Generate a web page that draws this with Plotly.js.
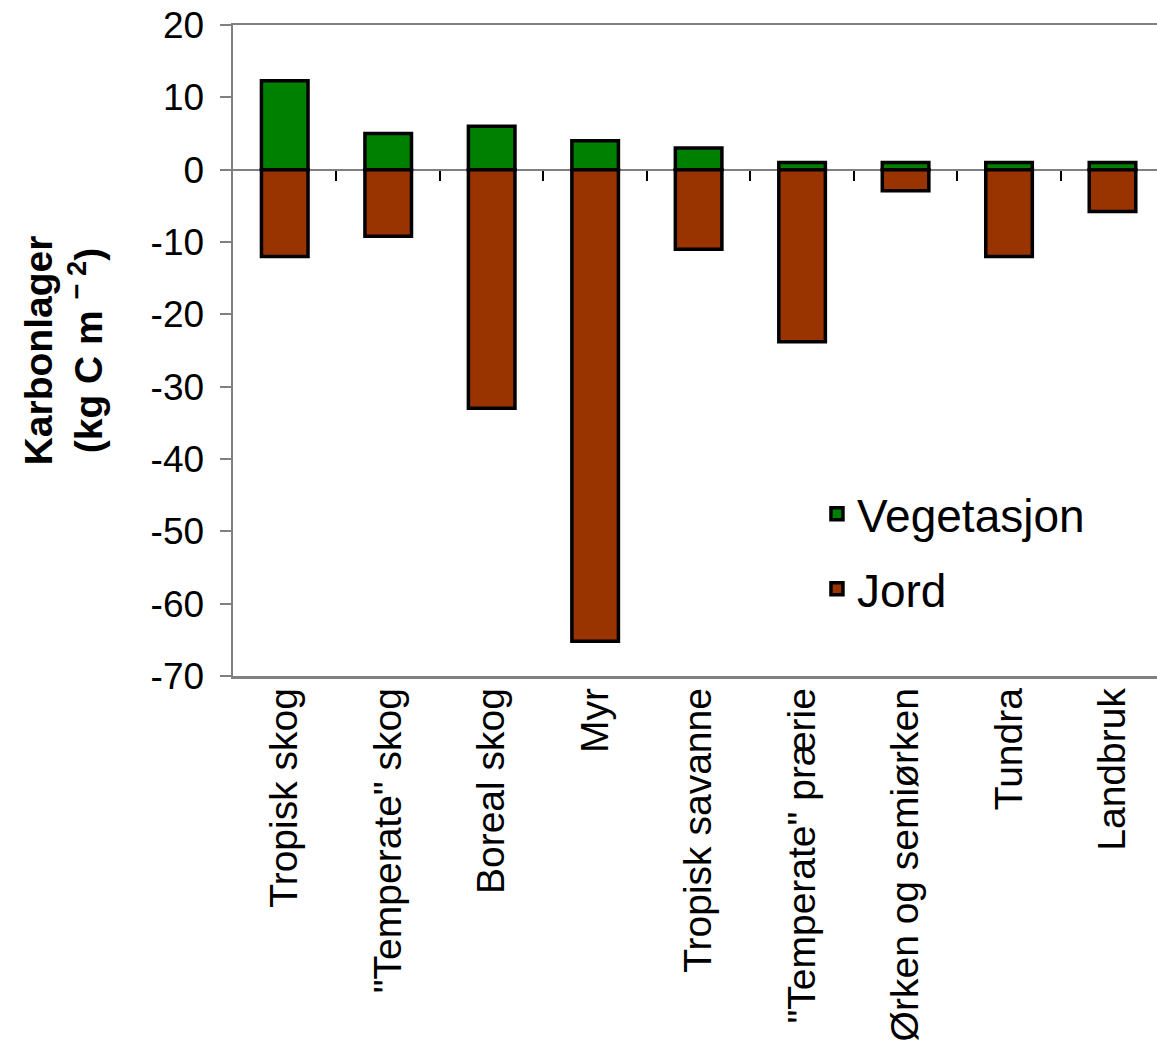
<!DOCTYPE html>
<html><head><meta charset="utf-8">
<script src="https://cdn.plot.ly/plotly-3.0.1.min.js"></script>
<style>html,body{margin:0;padding:0;background:#fff}</style>
</head><body>
<div id="chart" style="width:1157px;height:1045px"></div>
<script>
var categories = ['Tropisk skog', '"Temperate" skog', 'Boreal skog', 'Myr', 'Tropisk savanne', '"Temperate" prærie', 'Ørken og semiørken', 'Tundra', 'Landbruk'];
var vegetasjon = [12.3, 5, 6, 4, 3, 1, 1, 1, 1];
var jord = [-12, -9.2, -33, -65.2, -11, -23.8, -2.9, -12, -5.8];
var yTicks = [20, 10, 0, -10, -20, -30, -40, -50, -60, -70];

var idx = categories.map(function(c, i){ return i; });
var boundaries = idx.slice(0, -1).map(function(i){ return i + 0.5; });

var traces = [
  {type:'bar', name:'Vegetasjon', x: idx, y: vegetasjon, legendgroup:'a',
   marker:{color:'#008000', line:{color:'#000', width:3.5}}, width:0.45},
  {type:'bar', name:'Jord', x: idx, y: jord, legendgroup:'b',
   marker:{color:'#993300', line:{color:'#000', width:3.5}}, width:0.45}
];

var layout = {
  width:1157, height:1045,
  margin:{l:233, r:0, t:25, b:369},
  barmode:'relative',
  paper_bgcolor:'#fff', plot_bgcolor:'#fff',
  font:{family:'Liberation Sans, Arial, sans-serif', color:'#000'},
  showlegend:true,
  legend:{x:0.632, y:0.305, xanchor:'left', yanchor:'top', font:{size:46}, bgcolor:'rgba(0,0,0,0)',
          tracegroupgap:12, traceorder:'grouped'},
  xaxis:{
    range:[-0.5, 8.43], tickmode:'array', tickvals: idx, ticktext: categories,
    tickangle:-90, tickfont:{size:39}, ticks:'', ticklabelstandoff:-6, showgrid:false, zeroline:false,
    showline:true, linecolor:'#808080', linewidth:2.5, mirror:true
  },
  xaxis2:{
    overlaying:'x', anchor:'free', position:70/90, range:[-0.5, 8.43],
    tickmode:'array', tickvals: boundaries, showticklabels:false,
    ticks:'outside', ticklen:10, tickwidth:2, tickcolor:'#000',
    showgrid:false, zeroline:false, showline:false
  },
  yaxis:{
    range:[-70, 20], tickmode:'array', tickvals: yTicks, ticktext: yTicks.map(String),
    tickfont:{size:37}, ticks:'outside', ticklen:11, tickcolor:'#808080', tickwidth:2,
    ticklabelstandoff:8,
    showgrid:false, showline:true, linecolor:'#808080', linewidth:2.5, mirror:false,
    zeroline:true, zerolinecolor:'#808080', zerolinewidth:2,
    title:{text:'<b>Karbonlager</b><br><b>(kg C m <sup>− 2</sup>)</b>', font:{size:39}, standoff:36}
  }
};

traces.push({type:'scatter', x:[0], y:[0], xaxis:'x2', mode:'markers', marker:{opacity:0}, showlegend:false, hoverinfo:'skip'});

Plotly.newPlot('chart', traces, layout, {displayModeBar:false, staticPlot:true});
</script>
</body></html>
